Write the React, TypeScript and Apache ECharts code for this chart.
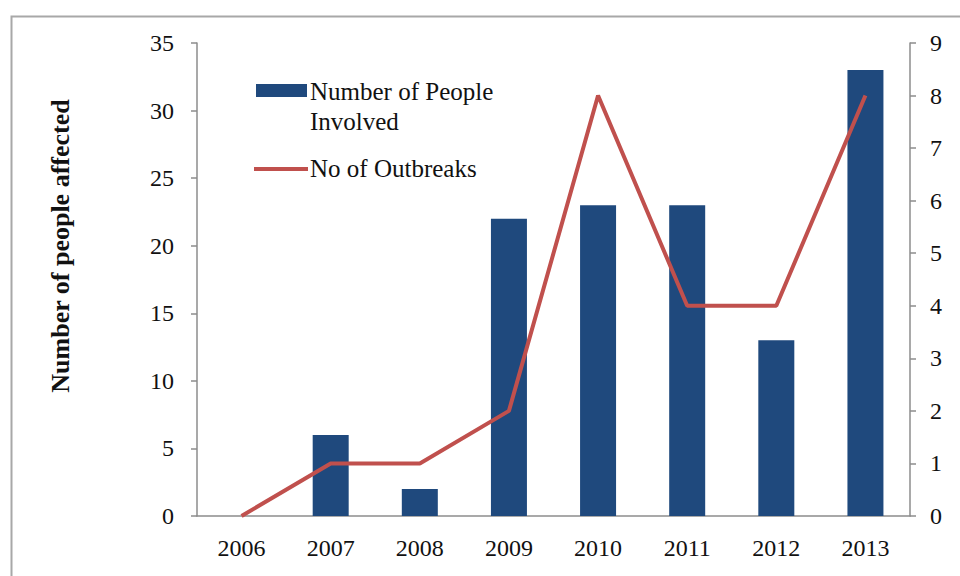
import React, { useEffect, useRef } from "react";
import * as echarts from "echarts";

const years = ["2006", "2007", "2008", "2009", "2010", "2011", "2012", "2013"];
const peopleInvolved = [0, 6, 2, 22, 23, 23, 13, 33];
const outbreaks = [0, 1, 1, 2, 8, 4, 4, 8];
const peopleSeriesName = "Number of People Involved";
const outbreakSeriesName = "No of Outbreaks";
const yTitle = "Number of people affected";

const BAR = "#1F497D";
const LINE = "#C0504D";
const AXIS = "#8c8c8c";
const FONT = "'Liberation Serif', 'Times New Roman', serif";

export default function App() {
  const ref = useRef<HTMLDivElement>(null);
  useEffect(() => {
    document.body.style.margin = "0";
    const chart = echarts.init(ref.current!, null, { renderer: "svg" });
    chart.setOption({
      animation: false,
      backgroundColor: "#ffffff",
      grid: { left: 197, right: 50, top: 43, bottom: 60, containLabel: false },
      xAxis: {
        type: "category",
        data: years,
        axisLine: { lineStyle: { color: AXIS, width: 1.5 } },
        axisTick: { length: 7, lineStyle: { color: AXIS, width: 1.5 } },
        axisLabel: { color: "#111", fontFamily: FONT, fontSize: 24, margin: 20 },
      },
      yAxis: [
        {
          type: "value",
          min: 0,
          max: 35,
          interval: 5,
          splitLine: { show: false },
          axisLine: { show: true, lineStyle: { color: AXIS, width: 1.5 } },
          axisTick: { show: true, length: 6, lineStyle: { color: AXIS, width: 1.5 } },
          axisLabel: { color: "#111", fontFamily: FONT, fontSize: 24, margin: 23 },
        },
        {
          type: "value",
          min: 0,
          max: 9,
          interval: 1,
          position: "right",
          splitLine: { show: false },
          axisLine: { show: true, lineStyle: { color: AXIS, width: 1.5 } },
          axisTick: { show: true, length: 6, lineStyle: { color: AXIS, width: 1.5 } },
          axisLabel: { color: "#111", fontFamily: FONT, fontSize: 24, margin: 20 },
        },
      ],
      series: [
        {
          name: peopleSeriesName,
          type: "bar",
          data: peopleInvolved,
          yAxisIndex: 0,
          barWidth: 36,
          itemStyle: { color: BAR },
        },
        {
          name: outbreakSeriesName,
          type: "line",
          data: outbreaks,
          yAxisIndex: 1,
          symbol: "none",
          lineStyle: { color: LINE, width: 4 },
          itemStyle: { color: LINE },
        },
      ],
      graphic: [
        {
          type: "rect",
          left: 9,
          top: 14,
          shape: { width: 1000, height: 1000 },
          style: { fill: "none", stroke: "#a8a8a8", lineWidth: 2 },
          silent: true,
        },
        {
          type: "text",
          x: 60,
          y: 246,
          rotation: Math.PI / 2,
          style: {
            text: yTitle,
            font: `bold 26px ${FONT}`,
            fill: "#111",
            align: "center",
            verticalAlign: "middle",
          },
        },
        {
          type: "rect",
          shape: { x: 256, y: 84, width: 51, height: 13 },
          style: { fill: BAR },
        },
        {
          type: "text",
          x: 310,
          y: 91,
          style: {
            text: "Number of People",
            font: `25px ${FONT}`,
            fill: "#111",
            verticalAlign: "middle",
          },
        },
        {
          type: "text",
          x: 310,
          y: 121,
          style: {
            text: "Involved",
            font: `25px ${FONT}`,
            fill: "#111",
            verticalAlign: "middle",
          },
        },
        {
          type: "line",
          shape: { x1: 254, y1: 169, x2: 308, y2: 169 },
          style: { stroke: LINE, lineWidth: 4 },
        },
        {
          type: "text",
          x: 310,
          y: 168,
          style: {
            text: outbreakSeriesName,
            font: `25px ${FONT}`,
            fill: "#111",
            verticalAlign: "middle",
          },
        },
      ],
    });
    return () => chart.dispose();
  }, []);
  return <div ref={ref} style={{ width: 960, height: 576 }} />;
}
